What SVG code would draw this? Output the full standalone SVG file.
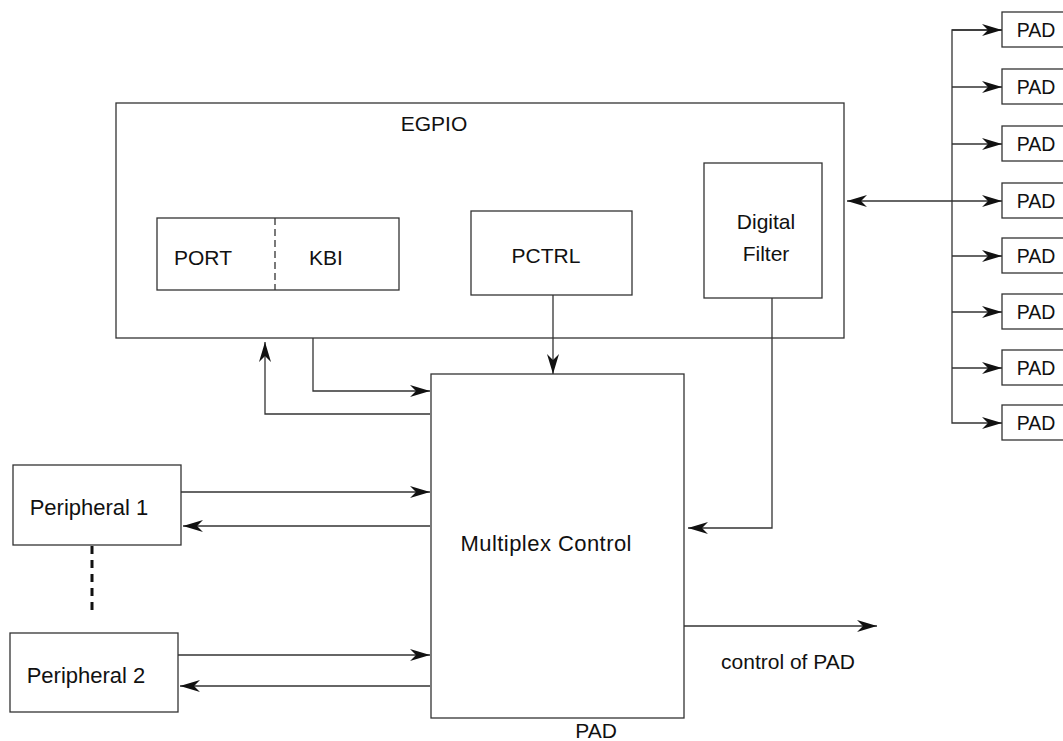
<svg xmlns="http://www.w3.org/2000/svg" width="1063" height="741" viewBox="0 0 1063 741">
<style>
.box{fill:#fff;stroke:#333;stroke-width:1.3}
.ln{fill:none;stroke:#333;stroke-width:1.3}
.t{font-family:"Liberation Sans",Arial,Helvetica,sans-serif;font-size:21px;fill:#111;text-anchor:middle}
.big{font-size:22px}
.pad{font-size:19.5px}
</style>
<defs>
<marker id="arr" viewBox="0 0 20 12" refX="20" refY="6" markerWidth="20" markerHeight="12" markerUnits="userSpaceOnUse" orient="auto-start-reverse">
<path d="M0,0 L20,6 L0,12 L6,6 z" fill="#111"/>
</marker>
</defs>
<rect width="1063" height="741" fill="#fff"/>

<g id="egpio">
<rect class="box" x="116" y="103" width="728" height="235"/>
<text class="t" x="434" y="131">EGPIO</text>
</g>
<g id="port-kbi">
<rect class="box" x="157" y="218" width="242" height="72"/>
<line class="ln" x1="275" y1="218" x2="275" y2="290" stroke-dasharray="7 4"/>
<text class="t" x="203" y="265">PORT</text>
<text class="t" x="326" y="265">KBI</text>
</g>
<g id="pctrl">
<rect class="box" x="471" y="211" width="161" height="84"/>
<text class="t" x="546" y="263">PCTRL</text>
</g>
<g id="digital-filter">
<rect class="box" x="704" y="163" width="118" height="135"/>
<text class="t" x="766" y="229">Digital</text>
<text class="t" x="766" y="261">Filter</text>
</g>
<g id="multiplex">
<rect class="box" x="431" y="374" width="253" height="344"/>
<text class="t big" x="546" y="551" textLength="171" lengthAdjust="spacing">Multiplex Control</text>
</g>
<g id="peripheral1">
<rect class="box" x="13" y="465" width="168" height="80"/>
<text class="t big" x="89" y="515">Peripheral 1</text>
</g>
<g id="peripheral2">
<rect class="box" x="10" y="633" width="168" height="79"/>
<text class="t big" x="86" y="683">Peripheral 2</text>
</g>
<g id="pads">
<rect class="box" x="1002" y="12" width="70" height="35"/><text class="t pad" x="1036" y="37">PAD</text>
<rect class="box" x="1002" y="69" width="70" height="35"/><text class="t pad" x="1036" y="94">PAD</text>
<rect class="box" x="1002" y="126" width="70" height="35"/><text class="t pad" x="1036" y="151">PAD</text>
<rect class="box" x="1002" y="183" width="70" height="35"/><text class="t pad" x="1036" y="208">PAD</text>
<rect class="box" x="1002" y="238" width="70" height="35"/><text class="t pad" x="1036" y="263">PAD</text>
<rect class="box" x="1002" y="294" width="70" height="35"/><text class="t pad" x="1036" y="319">PAD</text>
<rect class="box" x="1002" y="350" width="70" height="35"/><text class="t pad" x="1036" y="375">PAD</text>
<rect class="box" x="1002" y="405" width="70" height="35"/><text class="t pad" x="1036" y="430">PAD</text>
</g>
<g id="labels">
<text class="t" x="788" y="669">control of PAD</text>
<text class="t" x="596" y="738">PAD</text>
</g>

<g id="connectors">
<path class="ln" d="M553,295 V374" marker-end="url(#arr)"/>
<path class="ln" d="M313,338 V391 H430" marker-end="url(#arr)"/>
<path class="ln" d="M430,414 H265 V342" marker-end="url(#arr)"/>
<path class="ln" d="M181,492 H430" marker-end="url(#arr)"/>
<path class="ln" d="M430,526 H183" marker-end="url(#arr)"/>
<path class="ln" d="M178,655 H430" marker-end="url(#arr)"/>
<path class="ln" d="M430,686 H180" marker-end="url(#arr)"/>
<path class="ln" d="M772,298 V528 H688" marker-end="url(#arr)"/>
<path class="ln" d="M684,626 H877" marker-end="url(#arr)"/>
<line x1="92" y1="546" x2="92" y2="614" stroke="#111" stroke-width="3" stroke-dasharray="8 6"/>
<path class="ln" d="M847,201 H1002" marker-start="url(#arr)" marker-end="url(#arr)"/>
<path class="ln" d="M1002,30 H952 V423 H1002" marker-end="url(#arr)"/>
<path class="ln" d="M1002,30 H952" marker-start="url(#arr)"/>
<path class="ln" d="M952,87 H1002" marker-end="url(#arr)"/>
<path class="ln" d="M952,144 H1002" marker-end="url(#arr)"/>
<path class="ln" d="M952,256 H1002" marker-end="url(#arr)"/>
<path class="ln" d="M952,312 H1002" marker-end="url(#arr)"/>
<path class="ln" d="M952,368 H1002" marker-end="url(#arr)"/>
</g>
</svg>
